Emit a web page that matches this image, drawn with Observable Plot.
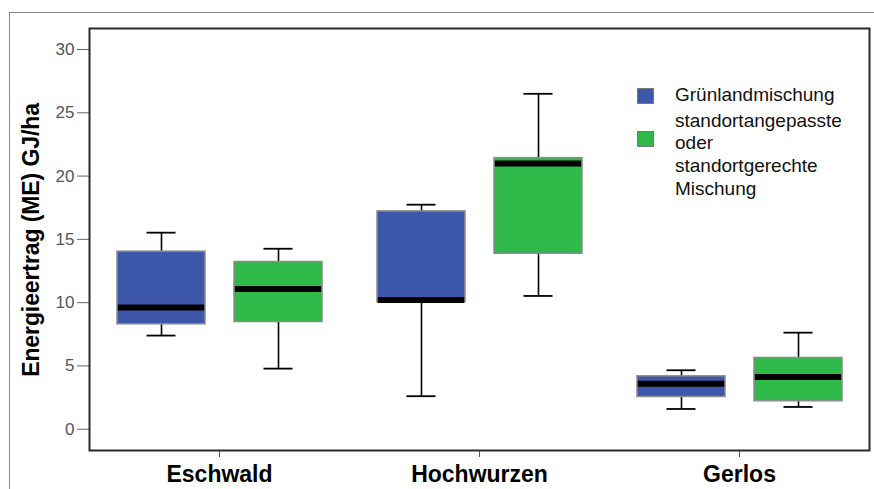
<!DOCTYPE html>
<html>
<head>
<meta charset="utf-8">
<script src="https://cdn.jsdelivr.net/npm/d3@7"></script>
<script src="https://cdn.jsdelivr.net/npm/@observablehq/plot@0.6"></script>
<style>
  html, body { margin: 0; padding: 0; background: #fff; }
  body { width: 874px; height: 489px; overflow: hidden; position: relative; font-family: "Liberation Sans", Arial, sans-serif; }
  #outer { position: absolute; left: 9px; top: 12px; width: 900px; height: 500px; border: 1px solid #8a8a8a; box-sizing: border-box; }
  #chart { position: absolute; left: 0; top: 0; }
  #ylabel { position: absolute; left: 31px; top: 240px; transform: translate(-50%, -50%) rotate(-90deg); white-space: nowrap; font-weight: bold; font-size: 23px; color: #000; letter-spacing: -0.1px; }
  #legend { position: absolute; left: 637px; top: 84px; font-size: 19px; line-height: 22.7px; color: #111; }
  .item { display: flex; align-items: flex-start; margin-bottom: 3px; }
  .sw { width: 17px; height: 16px; border: 1px solid #7a7a7a; box-sizing: border-box; margin-right: 21px; flex: none; }
</style>
</head>
<body>
<div id="outer"></div>
<div id="chart"></div>
<div id="ylabel"></div>
<div id="legend"></div>
<script>
const sites = ["Eschwald", "Hochwurzen", "Gerlos"];
const groups = ["Grünlandmischung", "standortangepasste oder standortgerechte Mischung"];
const groupLines = [["Grünlandmischung"], ["standortangepasste", "oder", "standortgerechte", "Mischung"]];
const colors = ["#3d57aa", "#2eb948"];
const yTicks = [0, 5, 10, 15, 20, 25, 30];
const yLabel = "Energieertrag (ME) GJ/ha";

// per site, per group: [whiskerLow, q1, median, q3, whiskerHigh]
const siteCol  = ["Eschwald", "Eschwald", "Hochwurzen", "Hochwurzen", "Gerlos", "Gerlos"];
const groupCol = [0, 1, 0, 1, 0, 1];
const lowVals  = [7.40, 4.79, 2.61, 10.53, 1.60, 1.76];
const q1Vals   = [8.29, 8.47, 10.02, 13.87, 2.55, 2.21];
const medVals  = [9.62, 11.08, 10.22, 21.00, 3.60, 4.13];
const q3Vals   = [14.03, 13.21, 17.21, 21.42, 4.18, 5.63];
const highVals = [15.53, 14.26, 17.74, 26.50, 4.66, 7.63];

const data = siteCol.map((s, i) => ({
  site: s,
  group: groups[groupCol[i]],
  low: lowVals[i], q1: q1Vals[i], med: medVals[i], q3: q3Vals[i], high: highVals[i]
}));

const plot = Plot.plot({
  width: 874,
  height: 489,
  marginTop: 28,
  marginBottom: 39,
  marginLeft: 88,
  marginRight: 5,
  style: { fontFamily: "Liberation Sans, Arial, sans-serif", background: "transparent" },
  fx: { domain: sites, padding: 0, label: null },
  x: { domain: groups, paddingInner: 0.248, paddingOuter: 0.235, axis: null },
  y: { domain: [-1.68, 31.66], label: null },
  color: { domain: groups, range: colors },
  marks: [
    Plot.ruleX(data, { fx: "site", x: "group", y1: "low", y2: "high", stroke: "#000", strokeWidth: 1.6 }),
    Plot.tickY(data, { fx: "site", x: "group", y: "low", stroke: "#000", strokeWidth: 1.8, insetLeft: 29.5, insetRight: 29.5 }),
    Plot.tickY(data, { fx: "site", x: "group", y: "high", stroke: "#000", strokeWidth: 1.8, insetLeft: 29.5, insetRight: 29.5 }),
    Plot.barY(data, { fx: "site", x: "group", y1: "q1", y2: "q3", fill: "group", stroke: "#8c8c8c", strokeWidth: 1.5 }),
    Plot.tickY(data, { fx: "site", x: "group", y: "med", stroke: "#000", strokeWidth: 6, insetLeft: 0.8, insetRight: 0.8 }),
    Plot.axisY({ ticks: yTicks, tickSize: 12, tickPadding: 3, fontSize: 17, color: "#555", stroke: "#666", label: null }),
    Plot.axisFx({ anchor: "bottom", tickSize: 7, tickPadding: 8, fontSize: 23, fontWeight: "bold", color: "#000", stroke: "#555", label: null }),
    Plot.frame({ facet: "super", stroke: "#2a2a2a", strokeWidth: 2 })
  ]
});
document.getElementById("chart").appendChild(plot);

document.getElementById("ylabel").textContent = yLabel;

const legend = document.getElementById("legend");
groupLines.forEach((lines, i) => {
  const item = document.createElement("div");
  item.className = "item";
  const sw = document.createElement("div");
  sw.className = "sw";
  sw.style.background = colors[i];
  sw.style.marginTop = (i === 0 ? 4 : 21) + "px";
  const txt = document.createElement("div");
  txt.innerHTML = lines.join("<br>");
  item.appendChild(sw);
  item.appendChild(txt);
  legend.appendChild(item);
});
</script>
</body>
</html>
